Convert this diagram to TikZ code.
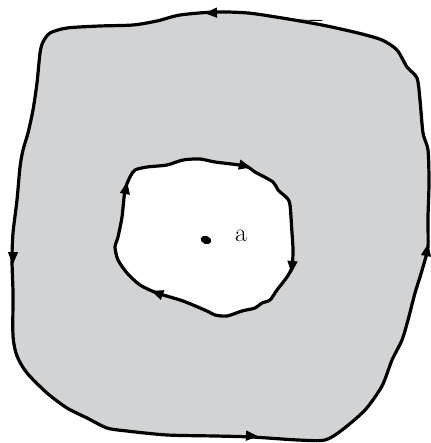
\documentclass[tikz,border=0pt]{standalone}
\usepackage{tikz}
\usetikzlibrary{shapes.geometric}
\definecolor{regiongrey}{RGB}{209,211,212}
\newcommand\arrowtipat[3]{\fill[shift={(#1,#2)},rotate=#3] (6,0) -- (-6,5.2) -- (-6,-5.2) -- cycle;}
\begin{document}
\begin{tikzpicture}[x=1pt,y=-1pt,line join=round,line cap=round,
  boundary/.style={line width=3.2pt,black}]
\useasboundingbox (0,0) rectangle (430,443);
% outer region
\filldraw[boundary,fill=regiongrey] plot[smooth cycle,tension=0.45] coordinates {
(215,12) (180,15) (157,21) (133,25) (100,26) (67,28) (50,33) (43,42) (40,53)
(37,83) (33,110) (28,133) (23,150) (20,167) (17,200) (13,233) (12,260) (13,293)
(13,336) (17,356) (27,373) (47,393) (67,408) (87,418) (107,428) (127,431)
(167,435) (215,436) (252,437) (298,440) (325,440) (342,430) (365,410) (382,386)
(392,360) (402,340) (408,320) (415,293) (420,277) (425,260) (428,247) (428,217)
(429,183) (428,150) (423,133) (420,100) (417,78) (407,67) (397,50) (382,40)
(358,33) (322,25) (282,18) (248,13)};
\draw[line width=0.9pt] (292,20) -- (322,20.5);
% inner hole
\filldraw[boundary,fill=white] plot[smooth cycle,tension=0.45] coordinates {
(135,170) (147,167) (167,165) (183,160) (200,159) (215,162) (245,166) (255,172)
(273,182) (278,190) (287,198) (290,205) (292,233) (293,250) (292,267) (287,277)
(277,290) (270,300) (262,303) (255,308) (242,311) (227,316) (215,315) (207,311)
(183,301) (157,293) (140,285) (127,273) (118,260) (115,247) (118,237) (122,217)
(125,190) (130,177)};
% arrowheads outer (counterclockwise)
\arrowtipat{211}{13}{183}
\arrowtipat{13}{258}{270}
\arrowtipat{252}{436}{-3}
\arrowtipat{427}{250}{80}
% arrowheads inner (clockwise)
\arrowtipat{245}{166}{-14}
\arrowtipat{292}{267}{265}
\arrowtipat{157}{293}{160}
\arrowtipat{126}{188}{79}
% point a
\node[fill=black,ellipse,inner sep=0pt,minimum width=11pt,minimum height=8pt,rotate=-20] (pt) at (206,240) {};
\node (a) at (241,236) {\fontsize{26}{28}\selectfont a};
\end{tikzpicture}
\end{document}
